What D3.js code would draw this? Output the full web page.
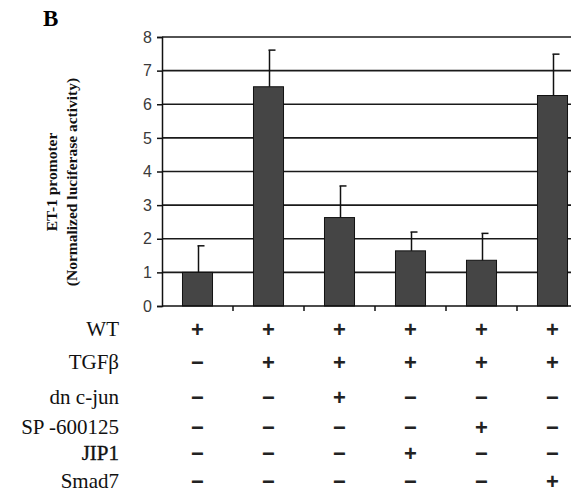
<!DOCTYPE html>
<html>
<head>
<meta charset="utf-8">
<script src="https://cdn.jsdelivr.net/npm/d3@7"></script>
<style>
  body { margin: 0; background: #fff; }
  svg { display: block; }
</style>
</head>
<body>
<div id="chart"></div>
<script>
// luciferase data
const conditions = ["c1", "c2", "c3", "c4", "c5", "c6"];
const means = [1.0, 6.52, 2.63, 1.64, 1.36, 6.26];
const errors = [0.79, 1.09, 0.94, 0.56, 0.80, 1.23];
const yTicks = [0, 1, 2, 3, 4, 5, 6, 7, 8];

// treatment table below the chart (1 = +, 0 = -)
const rowLabels = ["WT", "TGFβ", "dn c-jun", "SP -600125", "JIP1", "Smad7"];
const treatments = [
  [1, 1, 1, 1, 1, 1],
  [0, 1, 1, 1, 1, 1],
  [0, 0, 1, 0, 0, 0],
  [0, 0, 0, 0, 1, 0],
  [0, 0, 0, 1, 0, 0],
  [0, 0, 0, 0, 0, 1]
];

const width = 571, height = 495;
const margin = {top: 37, left: 162, bottom: 306};
const serif = "'Liberation Serif', 'Times New Roman', Times, serif";
const sans = "'Liberation Sans', Arial, sans-serif";

const svg = d3.select("#chart").append("svg")
    .attr("width", width)
    .attr("height", height);

let x = d3.scaleBand()
    .domain(conditions)
    .range([margin.left, margin.left + 71 * 6])
    .paddingInner(0.577)
    .paddingOuter(0.2885);
let step = x.step();

let y = d3.scaleLinear()
    .domain([0, 8])
    .range([margin.bottom, margin.top]);

// gridlines, they run off the right edge
svg.append("g")
  .selectAll("line")
  .data(yTicks.slice(1))
  .enter().append("line")
    .attr("x1", margin.left)
    .attr("x2", width)
    .attr("y1", d => y(d))
    .attr("y2", d => y(d))
    .attr("stroke", "#1a1a1a")
    .attr("stroke-width", 1.6);

// bars
svg.append("g")
  .selectAll("rect")
  .data(means)
  .enter().append("rect")
    .attr("x", (d, i) => x(conditions[i]))
    .attr("y", d => y(d))
    .attr("width", x.bandwidth())
    .attr("height", d => y(0) - y(d))
    .attr("fill", "#454545")
    .attr("stroke", "#111")
    .attr("stroke-width", 1);

// error bars, upper only
let eb = svg.append("g").attr("stroke", "#111").attr("stroke-width", 1.5);
means.forEach((m, i) => {
  let cx = x(conditions[i]) + x.bandwidth() / 2 + 1;
  eb.append("line")
    .attr("x1", cx).attr("x2", cx)
    .attr("y1", y(m)).attr("y2", y(m + errors[i]));
  eb.append("line")
    .attr("x1", cx - 1).attr("x2", cx + 6)
    .attr("y1", y(m + errors[i])).attr("y2", y(m + errors[i]));
});

// y axis
let yAxis = g => g
    .attr("transform", `translate(${margin.left},0)`)
    .call(d3.axisLeft(y).tickValues(yTicks).tickSize(5).tickPadding(5))
    .call(g => g.select(".domain").attr("stroke", "#111").attr("stroke-width", 1.5))
    .call(g => g.selectAll(".tick line").attr("stroke", "#111").attr("stroke-width", 1.5))
    .call(g => g.selectAll("text")
        .attr("fill", "#3a3a3a")
        .style("font-family", sans)
        .attr("font-size", 16));
svg.append("g").call(yAxis);

// x axis baseline + ticks at category boundaries
svg.append("line")
    .attr("x1", margin.left).attr("x2", width)
    .attr("y1", y(0)).attr("y2", y(0))
    .attr("stroke", "#111").attr("stroke-width", 1.6);
svg.append("g")
  .selectAll("line")
  .data(conditions.slice(1))
  .enter().append("line")
    .attr("x1", d => x(d) - step * 0.2885)
    .attr("x2", d => x(d) - step * 0.2885)
    .attr("y1", y(0)).attr("y2", y(0) + 5)
    .attr("stroke", "#111").attr("stroke-width", 1.5);

// panel letter
svg.append("text")
    .attr("x", 43).attr("y", 26)
    .style("font-family", serif)
    .attr("font-weight", "bold")
    .attr("font-size", 23)
    .text("B");

// y title
let yt = svg.append("text")
    .attr("transform", "translate(0,182) rotate(-90)")
    .attr("text-anchor", "middle")
    .style("font-family", serif)
    .attr("font-weight", "bold")
    .attr("font-size", 15.5)
    .attr("fill", "#111");
yt.append("tspan").attr("x", 0).attr("y", 57).text("ET-1 promoter");
yt.append("tspan").attr("x", 0).attr("y", 77).text("(Normalized luciferase activity)");

// treatment table
const rowY = [329, 362, 397, 427, 453, 481];
let tbl = svg.append("g");
rowLabels.forEach((lab, r) => {
  tbl.append("text")
    .attr("x", 119).attr("y", rowY[r])
    .attr("dy", "0.35em")
    .attr("text-anchor", "end")
    .style("font-family", serif)
    .attr("font-size", 21)
    .attr("fill", "#111")
    .attr("stroke", lab === "JIP1" ? "#111" : "none")
    .attr("stroke-width", 0.35)
    .text(lab);
  treatments[r].forEach((v, c) => {
    tbl.append("text")
      .attr("x", x(conditions[c]) + x.bandwidth() / 2)
      .attr("y", rowY[r])
      .attr("dy", "0.35em")
      .attr("text-anchor", "middle")
      .style("font-family", sans)
      .attr("font-size", 22)
      .attr("font-weight", "bold")
      .attr("fill", "#222")
      .text(v ? "+" : "−");
  });
});
</script>
</body>
</html>
